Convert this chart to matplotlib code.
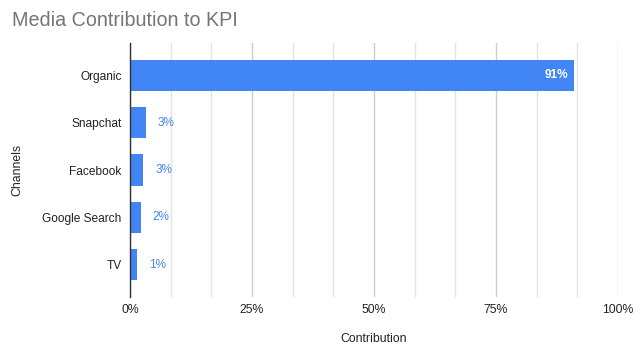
import matplotlib
matplotlib.use("Agg")
import matplotlib.pyplot as plt
import numpy as np
from matplotlib.ticker import FixedLocator, FuncFormatter

channels = ["Organic", "Snapchat", "Facebook", "Google Search", "TV"]
values = [0.91, 0.032, 0.027, 0.022, 0.014]
labels = ["91%", "3%", "3%", "2%", "1%"]
major_ticks = [0, 0.25, 0.5, 0.75, 1.0]

plt.rcParams['font.family'] = ['Liberation Sans', 'DejaVu Sans']

fig = plt.figure(figsize=(6.42, 3.55), dpi=100)
ax = fig.add_axes([130/642, 1-297/355, (618-130)/642, (297-43)/355])

blue = "#4285F4"
y = np.arange(len(channels))
ax.barh(y, values, height=0.655, color=blue, zorder=3)

for yi, v, lab in zip(y, values, labels):
    if v > 0.5:
        ax.text(v - 0.012, yi, lab, ha="right", va="center", color="white",
                fontsize=8.5, fontweight="bold", zorder=4)
    else:
        ax.text(v + 0.025, yi, lab, ha="left", va="center", color=blue,
                fontsize=8.5, zorder=4)

ax.set_ylim(4.68, -0.68)
ax.set_xlim(0, 1.0)
ax.set_yticks(y)
ax.set_yticklabels(channels, fontsize=8.6, color="#222222")
ax.set_xticks(major_ticks)
ax.xaxis.set_major_formatter(FuncFormatter(lambda v, p: f"{int(round(v*100))}%"))
ax.xaxis.set_minor_locator(FixedLocator([k/12 for k in range(1, 12) if k % 3 != 0]))
ax.tick_params(axis="both", which="both", length=0, colors="#222222")
ax.tick_params(axis="x", labelsize=8.8, pad=5)
ax.tick_params(axis="y", pad=6)

ax.grid(axis="x", which="major", color="#cccccc", linewidth=1, zorder=0)
ax.grid(axis="x", which="minor", color="#e3e3e3", linewidth=1, zorder=0)
ax.grid(axis="y", visible=False)
for s in ["top", "right", "bottom"]:
    ax.spines[s].set_visible(False)
ax.spines["left"].set_color("#333333")
ax.spines["left"].set_linewidth(1)
ax.spines["left"].set_zorder(5)

ax.set_xlabel("Contribution", fontsize=8.8, color="#222222", labelpad=12)
ax.set_ylabel("Channels", fontsize=8.8, color="#222222", labelpad=14)

fig.text(12/642, 1-20/355, "Media Contribution to KPI", fontsize=14.2,
         color="#757575", ha="left", va="center")

fig.savefig("out.png", dpi=100)
